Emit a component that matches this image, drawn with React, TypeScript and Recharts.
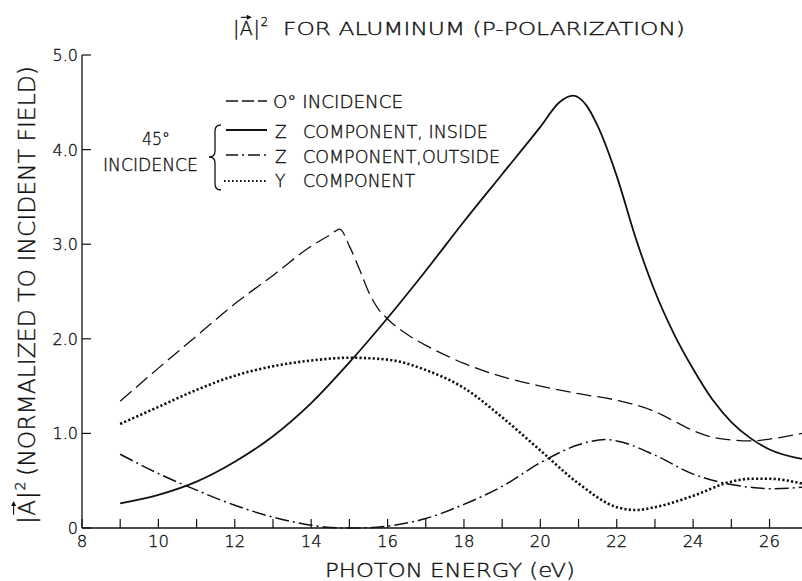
import { LineChart, Line, XAxis, YAxis } from 'recharts'

// photon energy (eV) / |A|^2
const normalX = [9, 10, 11, 12, 13, 14, 14.5, 14.75, 15, 15.3, 15.5, 15.75, 16, 16.5, 17, 17.5, 18, 19, 20, 21, 22, 23, 23.5, 24, 24.5, 25, 25.5, 26, 26.85]
const normalY = [1.34, 1.69, 2.03, 2.37, 2.67, 2.98, 3.1, 3.16, 2.98, 2.7, 2.5, 2.32, 2.21, 2.05, 1.93, 1.83, 1.74, 1.6, 1.5, 1.42, 1.35, 1.23, 1.13, 1.03, 0.96, 0.93, 0.92, 0.94, 1.0]

const zInsideX = [9, 10, 11, 12, 13, 14, 15, 16, 17, 18, 19, 20, 20.5, 20.85, 21.2, 21.5, 22, 22.5, 23, 23.5, 24, 24.5, 25, 25.5, 26, 26.85]
const zInsideY = [0.26, 0.35, 0.49, 0.7, 0.97, 1.32, 1.75, 2.22, 2.72, 3.24, 3.74, 4.24, 4.5, 4.57, 4.47, 4.25, 3.72, 3.06, 2.5, 2.05, 1.68, 1.36, 1.12, 0.95, 0.83, 0.73]

const zOutsideX = [9, 10, 11, 12, 13, 14, 14.5, 15, 15.5, 16, 17, 18, 19, 20, 21, 21.7, 22, 23, 24, 25, 25.5, 26, 26.85]
const zOutsideY = [0.78, 0.575, 0.4, 0.24, 0.115, 0.03, 0.005, 0, 0.003, 0.02, 0.1, 0.25, 0.44, 0.69, 0.88, 0.935, 0.92, 0.77, 0.57, 0.46, 0.43, 0.415, 0.43]

const yCompX = [9, 10, 11, 12, 13, 14, 15, 16, 17, 18, 19, 20, 21, 22, 22.5, 23, 24, 25, 25.5, 26, 26.85]
const yCompY = [1.1, 1.28, 1.46, 1.61, 1.71, 1.77, 1.8, 1.78, 1.67, 1.48, 1.17, 0.82, 0.47, 0.22, 0.19, 0.22, 0.34, 0.49, 0.52, 0.52, 0.47]

const xTicks = [8, 9, 10, 11, 12, 13, 14, 15, 16, 17, 18, 19, 20, 21, 22, 23, 24, 25, 26]
const yTicks = [0, 1, 2, 3, 4, 5]
const yTickLabels = ['0', '1.0', '2.0', '3.0', '4.0', '5.0']

const pts = (xs: number[], ys: number[]) => xs.map((x, i) => ({ x, y: ys[i] }))

const INK = '#111'
const FONT = '"DejaVu Sans", "Liberation Sans", sans-serif'
const TICK = 9
const TXT = { fontFamily: FONT, fontWeight: 200, fill: INK, stroke: INK, strokeWidth: 0.35 }

const BottomTick = (p: any) => {
  const v = p.payload.value
  return (
    <g>
      <line x1={p.x} y1={p.y} x2={p.x} y2={p.y - TICK} stroke={INK} strokeWidth={1.2} />
      {v % 2 === 0 && (
        <text x={p.x} y={p.y + 19} textAnchor="middle" fontSize={16.5} {...TXT}>{v}</text>
      )}
    </g>
  )
}

const TopTick = (p: any) => (
  <line x1={p.x} y1={p.y} x2={p.x} y2={p.y + TICK} stroke={INK} strokeWidth={1.2} />
)

const LeftTick = (p: any) => {
  const i = yTicks.indexOf(p.payload.value)
  return (
    <g>
      <line x1={p.x} y1={p.y} x2={p.x + TICK} y2={p.y} stroke={INK} strokeWidth={1.2} />
      <text x={p.x - 4} y={p.y + 6} textAnchor="end" fontSize={16} {...TXT}>{yTickLabels[i]}</text>
    </g>
  )
}

// |A| with a vector arrow, drawn at (x, y) baseline
const VecA = ({ x, y, size }: { x: number; y: number; size: number }) => {
  const a = x + size * 0.36
  const w = size * 0.68
  const top = y - size * 0.73 - size * 0.2
  return (
    <g>
      <text x={x} y={y} fontSize={size}>|</text>
      <text x={a} y={y} fontSize={size}>A</text>
      <text x={a + w + size * 0.04} y={y} fontSize={size}>|</text>
      <line x1={a + 1} y1={top} x2={a + w - 2} y2={top} stroke={INK} strokeWidth={1.1} />
      <path d={`M${a + w - 1} ${top} l-5 -2.5 l0 5 z`} fill={INK} stroke="none" />
      <text x={a + w + size * 0.42} y={y - size * 0.45} fontSize={size * 0.62}>2</text>
    </g>
  )
}

export default function App() {
  return (
    <div style={{ position: 'absolute', left: 0, top: 0, width: 802, height: 581, background: '#fff' }}>
      <LineChart width={802} height={581} margin={{ top: 55, right: 0, bottom: 0, left: 0 }}>
        <XAxis dataKey="x" type="number" domain={[8, 26.85]} allowDataOverflow ticks={xTicks}
          height={53} tickSize={0} tickMargin={0} tick={BottomTick} axisLine={{ stroke: INK, strokeWidth: 1.3 }} />
        <XAxis xAxisId="top" orientation="top" dataKey="x" type="number" domain={[8, 26.85]} allowDataOverflow ticks={xTicks}
          height={0} tickSize={0} tickMargin={0} tick={TopTick} axisLine={{ stroke: INK, strokeWidth: 1.3 }} />
        <YAxis type="number" domain={[0, 5]} ticks={yTicks} width={82} tickSize={0} tickMargin={0}
          tick={LeftTick} axisLine={{ stroke: INK, strokeWidth: 1.3 }} />
        <Line data={pts(normalX, normalY)} dataKey="y" type="monotone" stroke={INK} strokeWidth={1.3}
          strokeDasharray="15 6" dot={false} isAnimationActive={false} />
        <Line data={pts(zInsideX, zInsideY)} dataKey="y" type="monotone" stroke={INK} strokeWidth={1.8}
          dot={false} isAnimationActive={false} />
        <Line data={pts(zOutsideX, zOutsideY)} dataKey="y" type="monotone" stroke={INK} strokeWidth={1.5}
          strokeDasharray="14 4 2 4" dot={false} isAnimationActive={false} />
        <Line data={pts(yCompX, yCompY)} dataKey="y" type="monotone" stroke={INK} strokeWidth={2.6}
          strokeDasharray="2.2 2.2" dot={false} isAnimationActive={false} />
      </LineChart>

      <svg width={802} height={581} style={{ position: 'absolute', left: 0, top: 0, pointerEvents: 'none' }}
        fontFamily={FONT} fontWeight={200} fill={INK} stroke={INK} strokeWidth={0.35}>
        {/* title */}
        <VecA x={233} y={35} size={19} />
        <text x={283} y={35} fontSize={17} textLength={402} lengthAdjust="spacingAndGlyphs">FOR ALUMINUM (P-POLARIZATION)</text>

        {/* y axis title */}
        <g transform="translate(35, 524) rotate(-90)">
          <VecA x={0} y={0} size={23} />
          <text x={48} y={0} fontSize={23} textLength={410} lengthAdjust="spacingAndGlyphs">(NORMALIZED TO INCIDENT FIELD)</text>
        </g>

        {/* x axis title */}
        <text x={325} y={577} fontSize={19} textLength={250} lengthAdjust="spacingAndGlyphs">PHOTON ENERGY (eV)</text>

        {/* legend */}
        <g stroke={INK} fill="none">
          <line x1={226} y1={101} x2={267} y2={101} strokeWidth={1.3} strokeDasharray="12 4" />
          <line x1={226} y1={130} x2={267} y2={130} strokeWidth={1.8} />
          <line x1={226} y1={155} x2={267} y2={155} strokeWidth={1.5} strokeDasharray="12 4 2 4" />
          <line x1={224} y1={181} x2={267} y2={181} strokeWidth={2} strokeDasharray="1.6 2.4" />
          <path d="M221 125 Q215 125 215 131 L215 151 Q215 157 209 157 Q215 157 215 163 L215 184 Q215 190 221 190" strokeWidth={1.3} />
        </g>
        <g fontSize={17}>
          <text x={273} y={108} textLength={130} lengthAdjust="spacingAndGlyphs">O° INCIDENCE</text>
          <text x={275} y={138}>Z</text>
          <text x={303} y={138} textLength={185} lengthAdjust="spacingAndGlyphs">COMPONENT, INSIDE</text>
          <text x={275} y={163}>Z</text>
          <text x={303} y={163} textLength={197} lengthAdjust="spacingAndGlyphs">COMPONENT,OUTSIDE</text>
          <text x={275} y={187}>Y</text>
          <text x={303} y={187} textLength={112} lengthAdjust="spacingAndGlyphs">COMPONENT</text>
          <text x={142} y={145} textLength={28} lengthAdjust="spacingAndGlyphs">45°</text>
          <text x={103} y={171} textLength={95} lengthAdjust="spacingAndGlyphs">INCIDENCE</text>
        </g>
      </svg>
    </div>
  )
}
